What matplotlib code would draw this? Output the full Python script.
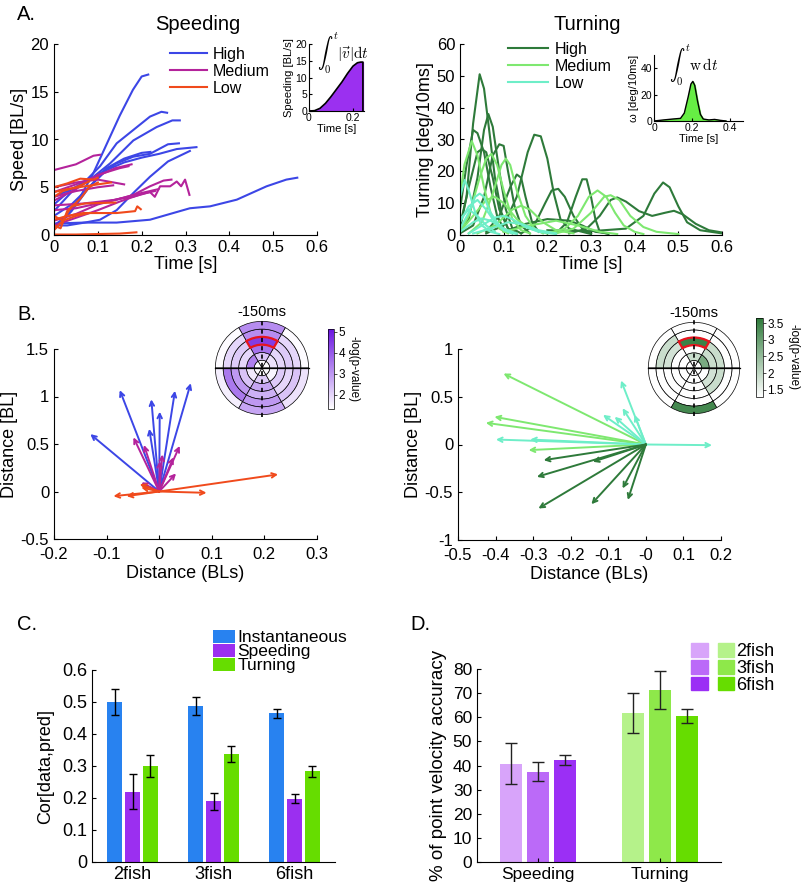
import numpy as np
import matplotlib
matplotlib.use("Agg")
import matplotlib.pyplot as plt
from matplotlib.patches import Wedge, Patch
from matplotlib.collections import PatchCollection
from matplotlib.colors import LinearSegmentedColormap, Normalize
from matplotlib.legend_handler import HandlerTuple
from matplotlib.ticker import FormatStrFormatter

plt.rcParams['font.family'] = ['Liberation Sans', 'DejaVu Sans']
plt.rcParams['axes.unicode_minus'] = False

# ── panel A: speed traces (t [s], speed [BL/s]) ─────────────────────
speed_high = [
    [(0, 1.0), (0.03, 2.0), (0.06, 4.0), (0.09, 6.5), (0.12, 9.5), (0.15, 12.5), (0.18, 15.2), (0.2, 16.6), (0.215, 16.8)],
    [(0, 2.5), (0.04, 4.5), (0.075, 5.8), (0.105, 7.2), (0.143, 9.6), (0.181, 11.0), (0.219, 12.4), (0.245, 12.9), (0.258, 12.8)],
    [(0, 3.2), (0.04, 4.8), (0.082, 5.8), (0.128, 7.5), (0.181, 9.9), (0.234, 11.3), (0.27, 12.0), (0.287, 12.0)],
    [(0, 4.0), (0.05, 5.0), (0.1, 6.3), (0.143, 7.5), (0.181, 8.2), (0.219, 8.5), (0.26, 9.5), (0.285, 9.6)],
    [(0, 2.0), (0.04, 3.2), (0.08, 5.0), (0.12, 6.8), (0.16, 7.6), (0.2, 8.1), (0.24, 8.5), (0.28, 9.0), (0.325, 9.2)],
    [(0, 1.0), (0.03, 1.0), (0.07, 1.3), (0.105, 1.6), (0.143, 2.6), (0.181, 4.4), (0.219, 6.1), (0.26, 7.7), (0.31, 8.8)],
    [(0, 1.2), (0.067, 1.3), (0.143, 1.3), (0.219, 1.6), (0.272, 2.3), (0.31, 2.8), (0.356, 3.0), (0.417, 3.7), (0.485, 5.1), (0.53, 5.8), (0.555, 6.0)],
    [(0, 0.6), (0.04, 2.5), (0.08, 5.0), (0.12, 7.0), (0.16, 8.0), (0.2, 8.6), (0.22, 8.7)],
]
speed_medium = [
    [(0, 6.8), (0.05, 7.4), (0.09, 8.3), (0.105, 8.4)],
    [(0, 3.1), (0.067, 3.3), (0.143, 3.7), (0.181, 4.2), (0.219, 5.1), (0.25, 5.7), (0.268, 5.8)],
    [(0, 2.6), (0.05, 2.8), (0.1, 3.3), (0.15, 3.8), (0.18, 4.0), (0.219, 4.5), (0.23, 4.0), (0.242, 5.1), (0.265, 5.1), (0.28, 5.6), (0.29, 5.1), (0.299, 5.8), (0.309, 4.2)],
    [(0, 1.5), (0.05, 2.2), (0.1, 3.2), (0.15, 3.8), (0.2, 4.4), (0.238, 4.8)],
    [(0, 4.5), (0.05, 5.3), (0.1, 6.2), (0.14, 7.0), (0.177, 7.4)],
    [(0, 4.0), (0.05, 4.6), (0.1, 5.0), (0.135, 5.2)],
    [(0, 5.0), (0.05, 5.5), (0.1, 5.8), (0.16, 5.3)],
    [(0, 3.6), (0.05, 4.8), (0.1, 6.3), (0.15, 7.0), (0.17, 7.2)],
    [(0, 1.0), (0.05, 1.8), (0.1, 2.6), (0.15, 3.5), (0.2, 4.3), (0.23, 4.6)],
]
speed_low = [
    [(0, 0.05), (0.05, 0.05), (0.1, 0.1), (0.15, 0.15), (0.188, 0.28)],
    [(0, 1.6), (0.03, 2.0), (0.067, 2.3), (0.143, 2.3), (0.185, 2.5), (0.19, 3.0), (0.198, 2.7)],
    [(0, 5.0), (0.03, 5.4), (0.06, 5.9), (0.09, 5.8), (0.1, 6.0)],
    [(0, 4.5), (0.03, 4.8), (0.07, 5.1), (0.1, 5.3), (0.13, 5.5)],
    [(0, 1.0), (0.015, 0.7), (0.03, 2.5), (0.06, 3.8), (0.08, 5.0), (0.1, 5.5)],
    [(0, 2.0), (0.02, 1.5), (0.04, 3.0), (0.07, 3.3), (0.14, 3.4)],
    [(0, 0.5), (0.02, 1.5), (0.05, 2.0), (0.08, 2.3)],
    [(0, 4.0), (0.02, 4.6), (0.05, 5.0), (0.08, 5.6)],
]
speeding_inset = [(0, 0), (0.025, 0.1), (0.05, 0.8), (0.075, 2.3), (0.1, 4.3), (0.125, 6.5), (0.15, 8.7),
                  (0.175, 11.2), (0.2, 13.4), (0.22, 14.4), (0.235, 14.6), (0.245, 14.6), (0.2451, 0)]

# ── panel A: turning traces (t [s], deg/10ms) ───────────────────────
turn_high = [
    [(0, 2), (0.015, 12), (0.03, 35), (0.045, 50.5), (0.055, 46), (0.065, 35), (0.08, 18), (0.095, 7), (0.11, 2), (0.13, 0.5)],
    [(0, 1), (0.02, 5), (0.04, 18), (0.055, 33), (0.065, 38), (0.075, 34), (0.09, 20), (0.105, 8), (0.12, 2), (0.14, 0.5)],
    [(0, 8), (0.015, 22), (0.03, 33), (0.04, 32), (0.055, 26), (0.07, 15), (0.085, 6), (0.1, 2), (0.12, 0.5)],
    [(0, 0.5), (0.03, 3), (0.055, 12), (0.075, 25), (0.09, 28.5), (0.1, 28), (0.11, 20), (0.125, 9), (0.14, 3), (0.16, 0.5)],
    [(0, 3), (0.02, 15), (0.04, 26), (0.05, 27), (0.06, 26), (0.075, 18), (0.09, 8), (0.11, 2), (0.13, 0.5)],
    [(0.06, 0.5), (0.1, 3), (0.13, 12), (0.155, 26), (0.17, 31.5), (0.185, 31), (0.2, 24), (0.215, 13), (0.23, 5), (0.25, 2), (0.28, 1), (0.3, 0.3)],
    [(0.14, 0.5), (0.17, 3), (0.195, 10), (0.21, 14), (0.225, 14.5), (0.24, 12), (0.26, 6), (0.28, 2), (0.3, 0.5)],
    [(0.22, 0.5), (0.245, 4), (0.265, 12), (0.28, 17.5), (0.29, 17.5), (0.3, 12), (0.31, 5), (0.32, 1), (0.34, 0.3)],
    [(0.25, 0.5), (0.29, 2), (0.32, 6), (0.345, 11), (0.36, 11.8), (0.38, 10.5), (0.41, 7.5), (0.44, 6), (0.47, 7), (0.49, 7.6), (0.51, 6.5), (0.54, 3.5), (0.57, 1.5), (0.6, 0.8)],
    [(0.2, 1.5), (0.3, 1.2), (0.38, 2), (0.42, 6), (0.445, 13), (0.465, 16.5), (0.48, 15), (0.5, 9), (0.52, 4), (0.55, 1.5), (0.6, 0.5)],
    [(0.1, 1), (0.15, 3.5), (0.2, 5), (0.25, 4.5), (0.28, 3), (0.31, 1), (0.34, 0.5)],
    [(0.06, 1), (0.09, 6), (0.115, 15), (0.13, 19), (0.14, 18), (0.15, 12), (0.165, 4), (0.18, 1)],
]
turn_medium = [
    [(0, 12), (0.01, 22), (0.027, 29.5), (0.04, 25), (0.055, 15), (0.07, 7), (0.09, 2), (0.11, 0.5)],
    [(0, 1), (0.02, 6), (0.045, 18), (0.06, 24), (0.072, 25.5), (0.085, 22), (0.1, 14), (0.12, 5), (0.14, 1.5), (0.16, 0.5)],
    [(0.02, 0.5), (0.05, 4), (0.075, 13), (0.095, 22), (0.105, 24), (0.115, 22), (0.13, 14), (0.15, 6), (0.17, 2), (0.19, 0.5)],
    [(0.2, 0.5), (0.24, 2), (0.27, 6), (0.295, 12), (0.315, 14), (0.335, 12), (0.355, 7), (0.375, 3), (0.4, 1), (0.42, 0.3)],
    [(0.22, 0.5), (0.26, 2), (0.3, 7), (0.33, 12), (0.345, 12.5), (0.365, 11), (0.39, 6), (0.42, 2.5), (0.45, 1), (0.5, 0.3)],
    [(0, 1), (0.03, 6), (0.06, 11), (0.08, 12), (0.1, 10), (0.13, 5), (0.16, 2), (0.2, 0.5)],
    [(0.04, 0.5), (0.08, 3), (0.12, 8), (0.14, 9.2), (0.16, 8), (0.19, 4), (0.22, 1.5), (0.26, 0.5)],
    [(0.1, 1), (0.16, 3), (0.22, 4.5), (0.27, 3), (0.32, 1), (0.36, 0.3)],
]
turn_low = [
    [(0, 12), (0.011, 17.3), (0.02, 14), (0.035, 7), (0.05, 3), (0.07, 1), (0.09, 0.3)],
    [(0, 2), (0.02, 7), (0.035, 12), (0.045, 13), (0.055, 12), (0.07, 7), (0.09, 3), (0.11, 1), (0.13, 0.3)],
    [(0, 4), (0.02, 9), (0.04, 11), (0.06, 8), (0.08, 4), (0.1, 1.5), (0.12, 0.5)],
    [(0.02, 0.5), (0.05, 3), (0.08, 5.5), (0.1, 6), (0.12, 5), (0.15, 2.5), (0.18, 1), (0.22, 0.3)],
    [(0, 1), (0.03, 4), (0.05, 5.2), (0.07, 4.5), (0.1, 2), (0.13, 0.5)],
    [(0.03, 0.5), (0.07, 2), (0.11, 4), (0.14, 3.5), (0.18, 1.5), (0.22, 0.5)],
    [(0, 5), (0.02, 8), (0.04, 6), (0.06, 3), (0.08, 1)],
]
turning_inset = [(0, 0), (0.05, 0.8), (0.1, 1.5), (0.14, 2), (0.16, 6), (0.18, 18), (0.195, 28), (0.205, 30),
                 (0.215, 27), (0.23, 15), (0.245, 5), (0.26, 1.5), (0.29, 0.8), (0.32, 1.2), (0.35, 0.5), (0.38, 0)]

# ── panel B: displacement arrows (x, y) in BL ───────────────────────
arrows_speed_high = [(-0.131, 0.604), (-0.075, 1.067), (-0.015, 0.97), (0.001, 0.84), (0.030, 1.06), (0.060, 1.14), (-0.019, 0.66)]
arrows_speed_medium = [(-0.049, 0.57), (-0.029, 0.49), (0.006, 0.39), (0.039, 0.48), (0.027, 0.36), (0.032, 0.19), (0.001, 0.32), (-0.034, 0.095)]
arrows_speed_low = [(0.226, 0.18), (0.090, -0.014), (-0.087, -0.049), (-0.062, -0.049), (-0.037, 0.077), (-0.034, 0.042)]
arrows_turn_high = [(-0.272, -0.164), (-0.141, -0.181), (-0.29, -0.339), (-0.286, -0.67), (-0.145, -0.625), (-0.062, -0.46), (-0.048, -0.58)]
arrows_turn_medium = [(-0.379, 0.743), (-0.403, 0.29), (-0.426, 0.227), (-0.312, -0.059)]
arrows_turn_low = [(-0.399, 0.052), (-0.308, 0.052), (-0.066, 0.67), (-0.062, 0.38), (-0.083, 0.29), (-0.114, 0.31), (-0.030, 0.31), (0.176, -0.007)]

# polar maps: rows = rings (inner -> outer), cols = sectors (0-60, 60-120, ... deg)
pval_speed = [
    [1.4, 1.4, 1.4, 1.4, 1.4, 1.4],
    [1.8, 2.3, 3.4, 1.7, 2.2, 1.5],
    [2.0, 3.6, 2.0, 2.3, 2.8, 2.2],
    [2.2, 4.5, 2.2, 3.0, 2.6, 2.0],
    [2.0, 3.2, 2.0, 3.5, 3.0, 2.3],
    [1.4, 3.2, 1.4, 1.6, 2.8, 1.8],
]
pval_turn = [
    [1.3, 1.3, 1.3, 1.3, 1.3, 1.3],
    [2.8, 1.9, 1.3, 1.3, 1.3, 1.3],
    [1.9, 1.3, 1.3, 1.3, 1.3, 1.8],
    [1.9, 3.5, 1.8, 1.3, 1.3, 1.9],
    [1.3, 1.3, 1.9, 1.3, 1.3, 1.3],
    [1.3, 1.3, 1.3, 1.3, 3.4, 1.3],
]

# ── panel C ─────────────────────────────────────────────────────────
group_sizes = ['2fish', '3fish', '6fish']
corr_instant = [0.50, 0.487, 0.465]
corr_instant_err = [0.042, 0.028, 0.014]
corr_speeding = [0.22, 0.19, 0.198]
corr_speeding_err = [0.054, 0.026, 0.013]
corr_turning = [0.30, 0.338, 0.283]
corr_turning_err = [0.033, 0.024, 0.017]

# ── panel D ─────────────────────────────────────────────────────────
acc_groups = ['Speeding', 'Turning']
acc_speeding = [40.7, 37.5, 42.3]
acc_speeding_err = [8.5, 3.8, 2.0]
acc_turning = [61.9, 71.3, 60.6]
acc_turning_err = [8.3, 7.8, 2.8]

C_HIGH, C_MED, C_LOW = '#3c46e6', '#b4239b', '#f04a1c'
G_HIGH, G_MED, G_LOW = '#2e7a3a', '#7ee870', '#6eeec8'

W, H = 802, 884
fig = plt.figure(figsize=(W / 100, H / 100), dpi=100)


def box(l, t, r, b):
    return [l / W, 1 - b / H, (r - l) / W, (b - t) / H]


def style(ax, size):
    ax.spines['top'].set_visible(False)
    ax.spines['right'].set_visible(False)
    ax.tick_params(direction='in', length=3, width=0.8, labelsize=size)


def draw_traces(ax, traces, color):
    for tr in traces:
        a = np.array(tr)
        ax.plot(a[:, 0], a[:, 1], color=color, lw=1.5, solid_joinstyle='round')


# ── A: speeding ──
ax = fig.add_axes(box(54, 44, 317, 235))
draw_traces(ax, speed_high, C_HIGH)
draw_traces(ax, speed_medium, C_MED)
draw_traces(ax, speed_low, C_LOW)
ax.set_xlim(0, 0.6)
ax.set_ylim(0, 20)
ax.set_xticks(np.round(np.arange(0, 0.61, 0.1), 2))
ax.set_yticks([0, 5, 10, 15, 20])
ax.xaxis.set_major_formatter(FormatStrFormatter('%g'))
style(ax, 12)
ax.set_xlabel('Time [s]', fontsize=13, labelpad=1)
ax.set_ylabel('Speed [BL/s]', fontsize=13, labelpad=2)
hl = [plt.Line2D([], [], color=c, lw=1.5) for c in (C_HIGH, C_MED, C_LOW)]
ax.legend(hl, ['High', 'Medium', 'Low'], loc='upper left', bbox_to_anchor=(170 / W, 1 - 47 / H),
          bbox_transform=fig.transFigure, frameon=False, fontsize=11.5, borderpad=0, borderaxespad=0,
          handlelength=2.3, handletextpad=0.4, labelspacing=0.12)

ins = fig.add_axes(box(309, 44, 364, 111))
a = np.array(speeding_inset)
ins.fill_between(a[:, 0], a[:, 1], color='#9b30f0')
ins.plot(a[:, 0], a[:, 1], color='k', lw=1.2)
ins.set_xlim(0, 0.25)
ins.set_ylim(0, 20)
ins.set_xticks([0, 0.2])
ins.set_yticks([0, 5, 10, 15, 20])
ins.xaxis.set_major_formatter(FormatStrFormatter('%g'))
style(ins, 7.5)
ins.tick_params(length=2, pad=1.5)
ins.set_xlabel('Time [s]', fontsize=8, labelpad=1)
ins.set_ylabel('Speeding [BL/s]', fontsize=8, labelpad=1)
ins.text(0.62, 0.88, r'$\int_0^t|\vec{v}|\mathrm{d}t$', transform=ins.transAxes, ha='center', va='center',
         fontsize=11, math_fontfamily='cm')

# ── A: turning ──
ax = fig.add_axes(box(460, 44, 722, 235))
draw_traces(ax, turn_high, G_HIGH)
draw_traces(ax, turn_medium, G_MED)
draw_traces(ax, turn_low, G_LOW)
ax.set_xlim(0, 0.6)
ax.set_ylim(0, 60)
ax.set_xticks(np.round(np.arange(0, 0.61, 0.1), 2))
ax.set_yticks(np.arange(0, 61, 10))
ax.xaxis.set_major_formatter(FormatStrFormatter('%g'))
style(ax, 12)
ax.set_xlabel('Time [s]', fontsize=13, labelpad=1)
ax.set_ylabel('Turning [deg/10ms]', fontsize=13, labelpad=2)
hl = [plt.Line2D([], [], color=c, lw=1.5) for c in (G_HIGH, G_MED, G_LOW)]
ax.legend(hl, ['High', 'Medium', 'Low'], loc='upper left', bbox_to_anchor=(508 / W, 1 - 42 / H),
          bbox_transform=fig.transFigure, frameon=False, fontsize=11.5, borderpad=0, borderaxespad=0,
          handlelength=2.5, handletextpad=0.4, labelspacing=0.12)

ins = fig.add_axes(box(654, 55, 743, 121))
a = np.array(turning_inset)
ins.fill_between(a[:, 0], a[:, 1], color='#66ee44')
ins.plot(a[:, 0], a[:, 1], color='k', lw=1.0)
ins.set_xlim(0, 0.47)
ins.set_ylim(0, 50)
ins.set_xticks([0, 0.2, 0.4])
ins.set_yticks([0, 20, 40])
ins.xaxis.set_major_formatter(FormatStrFormatter('%g'))
style(ins, 7.5)
ins.tick_params(length=2, pad=1.5)
ins.set_xlabel('Time [s]', fontsize=8, labelpad=1)
ins.set_ylabel('ω [deg/10ms]', fontsize=8, labelpad=1)
ins.text(0.45, 0.86, r'$\int_0^t \mathrm{w}\,\mathrm{d}t$', transform=ins.transAxes, ha='center', va='center',
         fontsize=11, math_fontfamily='cm')


# ── B ──
def draw_arrows(ax, pts, color):
    for x, y in pts:
        ax.annotate('', xy=(x, y), xytext=(0, 0),
                    arrowprops=dict(arrowstyle='->', color=color, lw=1.4, shrinkA=0, shrinkB=0,
                                    mutation_scale=8))


def polar_map(rect, cbox, label_x, values, color, vmin, vmax, ticks):
    pax = fig.add_axes(box(*rect))
    cmap = LinearSegmentedColormap.from_list('m', ['#ffffff', color])
    wedges, vals = [], []
    for i, row in enumerate(values):
        for j, v in enumerate(row):
            wedges.append(Wedge((0, 0), i + 1, 60 * j, 60 * (j + 1), width=1))
            vals.append(v)
    pc = PatchCollection(wedges, cmap=cmap, norm=Normalize(vmin, vmax), edgecolor='k', lw=0.5)
    pc.set_array(np.array(vals))
    pax.add_collection(pc)
    pax.add_patch(Wedge((0, 0), 4, 60, 120, width=1, fill=False, edgecolor='#e8141e', lw=1.6))
    pax.plot([-6, 6], [0, 0], color='k', lw=0.9)
    pax.plot([0, 0], [-6.3, 6.3], color='k', lw=1.2, dashes=(2.5, 2.5))
    pax.set_xlim(-6.3, 6.3)
    pax.set_ylim(-6.3, 6.3)
    pax.set_aspect('equal')
    pax.axis('off')
    pax.set_title('-150ms', fontsize=10.5, pad=1)
    cax = fig.add_axes(box(*cbox))
    cb = fig.colorbar(pc, cax=cax, ticks=ticks)
    cb.outline.set_linewidth(0.5)
    cb.ax.tick_params(labelsize=8.5, length=2, width=0.5, pad=1.2)
    cb.ax.yaxis.set_major_formatter(FormatStrFormatter('%g'))
    yc = (cbox[1] + cbox[3]) / 2
    fig.text(label_x / W, 1 - yc / H, '-log(p-value)', rotation=270, fontsize=8.5, ha='center', va='center')


ax = fig.add_axes(box(54, 349, 317, 539))
draw_arrows(ax, arrows_speed_high, C_HIGH)
draw_arrows(ax, arrows_speed_medium, C_MED)
draw_arrows(ax, arrows_speed_low, C_LOW)
ax.set_xlim(-0.2, 0.3)
ax.set_ylim(-0.5, 1.5)
ax.set_xticks(np.round(np.arange(-0.2, 0.31, 0.1), 2))
ax.set_yticks([-0.5, 0, 0.5, 1, 1.5])
ax.xaxis.set_major_formatter(FormatStrFormatter('%g'))
ax.yaxis.set_major_formatter(FormatStrFormatter('%g'))
style(ax, 12)
ax.tick_params(axis='x', pad=6)
ax.set_xlabel('Distance (BLs)', fontsize=13, labelpad=2)
ax.set_ylabel('Distance [BL]', fontsize=13, labelpad=2)
polar_map((213, 319, 311, 417), (328, 329, 334, 409), 353, pval_speed, '#6a14e0', 1.33, 5.14, [2, 3, 4, 5])

ax = fig.add_axes(box(458, 349, 721, 540))
draw_arrows(ax, arrows_turn_medium, G_MED)
draw_arrows(ax, arrows_turn_low, G_LOW)
draw_arrows(ax, arrows_turn_high, G_HIGH)
ax.set_xlim(-0.5, 0.2)
ax.set_ylim(-1, 1)
ax.set_xticks(np.round(np.arange(-0.5, 0.21, 0.1), 2))
ax.set_yticks([-1, -0.5, 0, 0.5, 1])
ax.xaxis.set_major_formatter(FormatStrFormatter('%g'))
ax.yaxis.set_major_formatter(FormatStrFormatter('%g'))
style(ax, 12)
ax.tick_params(axis='x', pad=6)
ax.set_xlabel('Distance (BLs)', fontsize=13, labelpad=2)
ax.set_ylabel('Distance [BL]', fontsize=13, labelpad=2)
polar_map((646, 320, 742, 416), (756, 318, 763, 397), 794, pval_turn, '#2e7a3a', 1.29, 3.65, [1.5, 2, 2.5, 3, 3.5])

# ── C ──
ax = fig.add_axes(box(92, 670, 335, 862))
xg = np.arange(1, len(group_sizes) + 1)
ek = dict(ecolor='k', elinewidth=1, capsize=3, capthick=1)
ax.bar(xg - 0.22, corr_instant, 0.18, yerr=corr_instant_err, color='#2882f0', error_kw=ek, label='Instantaneous')
ax.bar(xg, corr_speeding, 0.18, yerr=corr_speeding_err, color='#9b2ff0', error_kw=ek, label='Speeding')
ax.bar(xg + 0.22, corr_turning, 0.18, yerr=corr_turning_err, color='#66dd00', error_kw=ek, label='Turning')
ax.set_xlim(0.5, 3.5)
ax.set_ylim(0, 0.6)
ax.set_xticks(xg)
ax.set_xticklabels(group_sizes)
ax.set_yticks(np.round(np.arange(0, 0.61, 0.1), 2))
ax.yaxis.set_major_formatter(FormatStrFormatter('%g'))
style(ax, 13)
ax.tick_params(axis='x', length=0, pad=3)
ax.set_ylabel('Cor[data,pred]', fontsize=13, labelpad=6)
ax.legend(loc='upper left', bbox_to_anchor=(213 / W, 1 - 630 / H), bbox_transform=fig.transFigure,
          frameon=False, fontsize=12.5, borderpad=0, borderaxespad=0, handlelength=1.25, handleheight=0.75,
          handletextpad=0.15, labelspacing=-0.08)

# ── D ──
ax = fig.add_axes(box(477, 669, 721, 862))
xd = np.arange(1, len(acc_groups) + 1)
sp_cols = ['#d8a4fa', '#bb6af8', '#9b2ff5']
tu_cols = ['#b5f28a', '#8ee84a', '#66dd00']
ek = dict(ecolor='#222222', elinewidth=1, capsize=4, capthick=1)
for k, off in enumerate([-0.22, 0, 0.22]):
    ax.bar(xd + off, [acc_speeding[k], acc_turning[k]], 0.18,
           yerr=[acc_speeding_err[k], acc_turning_err[k]], color=[sp_cols[k], tu_cols[k]], error_kw=ek)
ax.set_xlim(0.5, 2.5)
ax.set_ylim(0, 80)
ax.set_xticks(xd)
ax.set_xticklabels(acc_groups)
ax.set_yticks(np.arange(0, 81, 10))
style(ax, 12.5)
ax.set_ylabel('% of point velocity accuracy', fontsize=13.5, labelpad=4)
handles = [(Patch(color=sp_cols[k]), Patch(color=tu_cols[k])) for k in range(3)]
ax.legend(handles, group_sizes, handler_map={tuple: HandlerTuple(ndivide=None, pad=0.55)},
          loc='upper left', bbox_to_anchor=(691 / W, 1 - 643 / H), bbox_transform=fig.transFigure,
          frameon=False, fontsize=13, borderpad=0, borderaxespad=0, handlelength=2.4, handleheight=0.8,
          handletextpad=0.1, labelspacing=-0.02)

# ── titles / panel letters ──
fig.text(198 / W, 1 - 25 / H, 'Speeding', ha='center', va='center', fontsize=14.5)
fig.text(587 / W, 1 - 25 / H, 'Turning', ha='center', va='center', fontsize=14.5)
for lab, x, y in [('A.', 17, 14), ('B.', 17, 314), ('C.', 17, 625), ('D.', 410, 625)]:
    fig.text(x / W, 1 - y / H, lab, ha='left', va='center', fontsize=14.5)

fig.savefig('out.png', dpi=100)
